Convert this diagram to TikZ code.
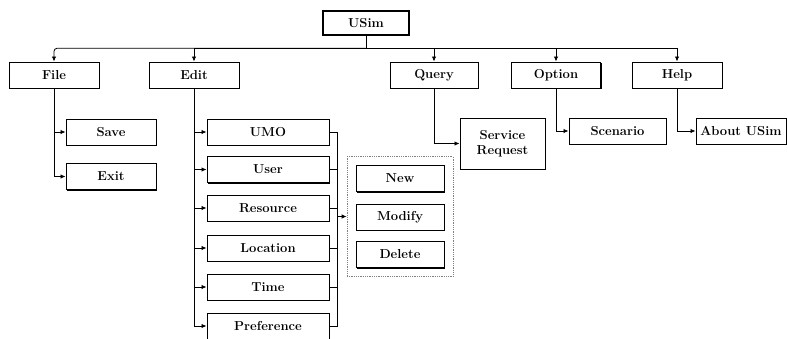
\documentclass[tikz,border=0pt]{standalone}
\usetikzlibrary{arrows.meta,shadows,fit}
\begin{document}
\begin{tikzpicture}[x=1pt,y=-1pt,
  menubox/.style={draw=black, fill=white, line width=1pt, inner sep=0pt,
    minimum height=26pt, font=\fontsize{13}{15}\selectfont\bfseries,
    drop shadow={shadow xshift=1.4pt, shadow yshift=-1.4pt, opacity=1, fill=black}},
  rootbox/.style={menubox, line width=2.6pt, minimum height=24pt},
  groupbox/.style={draw=black!50, line width=0.8pt, densely dotted, inner sep=8.5pt},
  link/.style={draw=black, line width=0.8pt},
  arr/.style={link, -{Latex[length=5pt,width=4.5pt]}}]
\useasboundingbox (0,0) rectangle (788,338);

% root and top-level menus
\node[rootbox, minimum width=86pt] (usim) at (366,23) {USim};
\node[menubox, minimum width=90pt] (file)   at (54,75)  {File};
\node[menubox, minimum width=90pt] (edit)   at (194,75) {Edit};
\node[menubox, minimum width=88pt] (query)  at (434,75) {Query};
\node[menubox, minimum width=89pt] (option) at (556,75) {Option};
\node[menubox, minimum width=90pt] (help)   at (677,75) {Help};

% File submenu
\node[menubox, minimum width=90pt] (save) at (111,132) {Save};
\node[menubox, minimum width=90pt] (exit) at (111,176.5) {Exit};

% Edit submenu
\node[menubox, minimum width=122pt] (umo)  at (268,132) {UMO};
\node[menubox, minimum width=122pt] (user) at (268,169.5) {User};
\node[menubox, minimum width=122pt] (res)  at (268,208) {Resource};
\node[menubox, minimum width=122pt] (loc)  at (268,248) {Location};
\node[menubox, minimum width=122pt] (time) at (268,287) {Time};
\node[menubox, minimum width=122pt] (pref) at (268,326) {Preference};

% shared actions
\node[menubox, minimum width=88pt] (new)    at (400,178.5) {New};
\node[menubox, minimum width=88pt] (modify) at (400,217)   {Modify};
\node[menubox, minimum width=88pt] (delete) at (400,254.5) {Delete};
\node[groupbox, fit=(new)(modify)(delete)] (actions) {};

% other submenus
\node[menubox, minimum width=85pt, minimum height=51pt, align=center] (service) at (502.5,143.5) {Service\\Request};
\node[menubox, minimum width=97pt] (scenario) at (617.5,131) {Scenario};
\node[menubox, minimum width=90pt] (about)    at (741,131) {About USim};

% top bus
\draw[link] (usim.south) -- ++(0,12) coordinate (bus);
\draw[arr, rounded corners=3pt] (bus) -| (file.north);
\draw[arr] (bus) -| (edit.north);
\draw[arr] (bus) -| (query.north);
\draw[arr] (bus) -| (option.north);
\draw[arr] (bus) -| (help.north);

% File branch
\draw[arr] (file.south) |- (save.west);
\draw[arr] (file.south) |- (exit.west);

% Edit branch
\foreach \n in {umo,user,res,loc,time,pref}
  \draw[arr] (edit.south) |- (\n.west);

% Edit items to shared actions
\draw[link] (umo.east) -- ++(8,0) coordinate (rtop) |- (pref.east);
\foreach \n in {user,res,loc,time}
  \draw[link] (\n.east) -- (\n.east -| rtop);
\draw[arr] (actions.west -| rtop) -- (actions.west);

% Query, Option, Help branches
\draw[arr] (query.south) |- (service.west);
\draw[arr] (option.south) |- (scenario.west);
\draw[arr] (help.south) |- (about.west);
\end{tikzpicture}
\end{document}
